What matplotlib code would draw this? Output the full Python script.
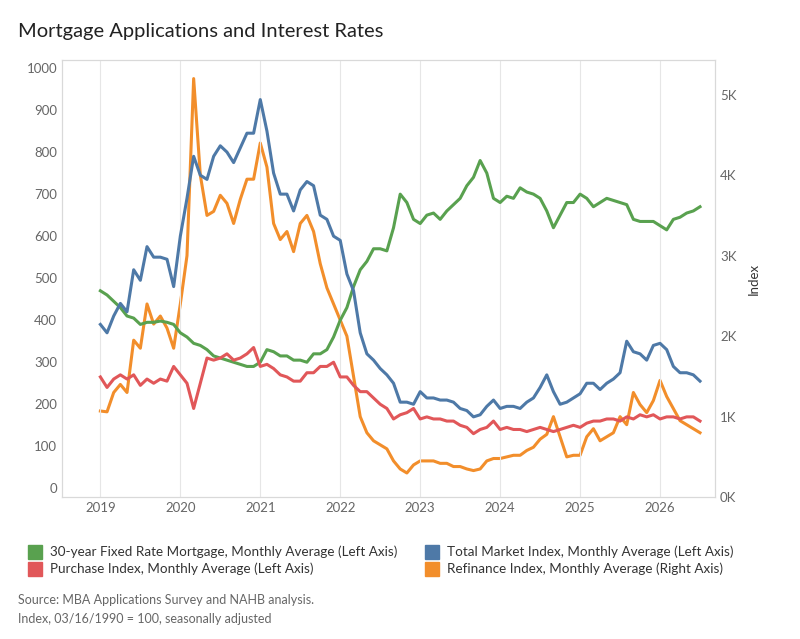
import numpy as np
import matplotlib.pyplot as plt
from matplotlib.lines import Line2D

plt.rcParams['font.family'] = ['Lato', 'DejaVu Sans']

# monthly, Jan 2019 .. Jul 2026
months = np.arange(91)
green = [470,460,445,430,410,405,390,395,395,398,395,390,
         370,360,345,340,330,315,310,305,300,295,290,290,
         300,330,325,315,315,305,305,300,320,320,330,360,
         400,430,480,520,540,570,570,565,620,700,680,640,
         630,650,655,640,660,675,690,720,740,780,750,690,
         680,695,690,715,705,700,690,660,620,650,680,680,
         700,690,670,680,690,685,680,675,640,635,635,635,
         625,615,640,645,655,660,670]
blue = [390,370,410,440,420,520,495,575,550,550,545,480,
        600,690,790,745,735,790,815,800,775,810,845,845,
        925,850,750,700,700,660,710,730,720,650,640,600,
        590,510,470,370,320,305,285,270,250,205,205,200,
        230,215,215,210,210,205,190,185,170,175,195,210,
        190,195,195,190,205,215,240,270,230,200,205,215,
        225,250,250,235,250,260,275,350,325,320,305,340,
        345,330,290,275,275,270,255]
red = [265,240,260,270,260,270,245,260,250,260,255,290,
       270,250,190,250,310,305,310,320,305,310,320,335,
       290,295,285,270,265,255,255,275,275,290,290,300,
       265,265,245,230,230,215,200,190,165,175,180,190,
       165,170,165,165,160,160,150,145,130,140,145,160,
       140,145,140,140,135,140,145,140,135,140,145,150,
       145,155,160,160,165,165,160,170,165,175,170,175,
       165,170,170,165,170,170,160]
orange = [1.07,1.06,1.3,1.4,1.3,1.95,1.85,2.4,2.15,2.25,2.1,1.85,
          2.4,3.0,5.2,4.0,3.5,3.55,3.75,3.65,3.4,3.7,3.95,3.95,
          4.4,4.1,3.4,3.2,3.3,3.05,3.4,3.5,3.3,2.9,2.6,2.4,
          2.2,2.0,1.5,1.0,0.8,0.7,0.65,0.6,0.45,0.35,0.3,0.4,
          0.45,0.45,0.45,0.42,0.42,0.38,0.38,0.35,0.33,0.35,0.45,0.48,
          0.48,0.5,0.52,0.52,0.58,0.62,0.72,0.78,1.0,0.75,0.5,0.52,
          0.52,0.75,0.85,0.7,0.75,0.8,1.0,0.9,1.3,1.15,1.05,1.2,
          1.45,1.25,1.1,0.95,0.9,0.85,0.8]
x = 2019 + months / 12

c_green, c_blue, c_red, c_orange = '#59a14f', '#4e79a7', '#e15759', '#f28e2b'

fig = plt.figure(figsize=(8, 6.39), dpi=100)
ax = fig.add_axes([0.0775, 0.222, 0.8165, 0.684])
ax2 = ax.twinx()

ax.plot(x, green, color=c_green, lw=2.2)
ax.plot(x, blue, color=c_blue, lw=2.2)
ax.plot(x, red, color=c_red, lw=2.2)
ax2.plot(x, orange, color=c_orange, lw=2.2)
ax.set_zorder(ax2.get_zorder() + 1)
ax.patch.set_visible(False)

ax.set_xlim(2018.52, 2026.69)
ax.set_ylim(-21, 1019)
ax2.set_ylim(0, 5.43)
ax.set_yticks(range(0, 1001, 100))
ax2.set_yticks(range(0, 6))
ax2.set_yticklabels([f'{i}K' for i in range(6)])
ax.set_xticks(range(2019, 2027))
ax.grid(axis='x', color='#e6e6e6', lw=0.8)
ax2.set_ylabel('Index', color='#333333', fontsize=9.5, labelpad=8)

for a in (ax, ax2):
    a.tick_params(length=0, labelsize=9.5, colors='#666666')
    for s in a.spines.values():
        s.set_color('#d9d9d9')

fig.text(0.022, 0.942, 'Mortgage Applications and Interest Rates', fontsize=14.5, color='#222222')

handles = [Line2D([], [], marker='s', ls='', color=c, markersize=10) for c in (c_green, c_red, c_blue, c_orange)]
labels = ['30-year Fixed Rate Mortgage, Monthly Average (Left Axis)', 'Purchase Index, Monthly Average (Left Axis)',
          'Total Market Index, Monthly Average (Left Axis)', 'Refinance Index, Monthly Average (Right Axis)']
fig.legend(handles, labels, ncol=2, loc='upper left', bbox_to_anchor=(0.012, 0.165), frameon=False,
           fontsize=9.7, handletextpad=0.1, columnspacing=1.6, labelspacing=0.35, labelcolor='#333333')

fig.text(0.022, 0.055, 'Source: MBA Applications Survey and NAHB analysis.', fontsize=9, color='#666666')
fig.text(0.022, 0.025, 'Index, 03/16/1990 = 100, seasonally adjusted', fontsize=9, color='#666666')

fig.savefig('out.png')
